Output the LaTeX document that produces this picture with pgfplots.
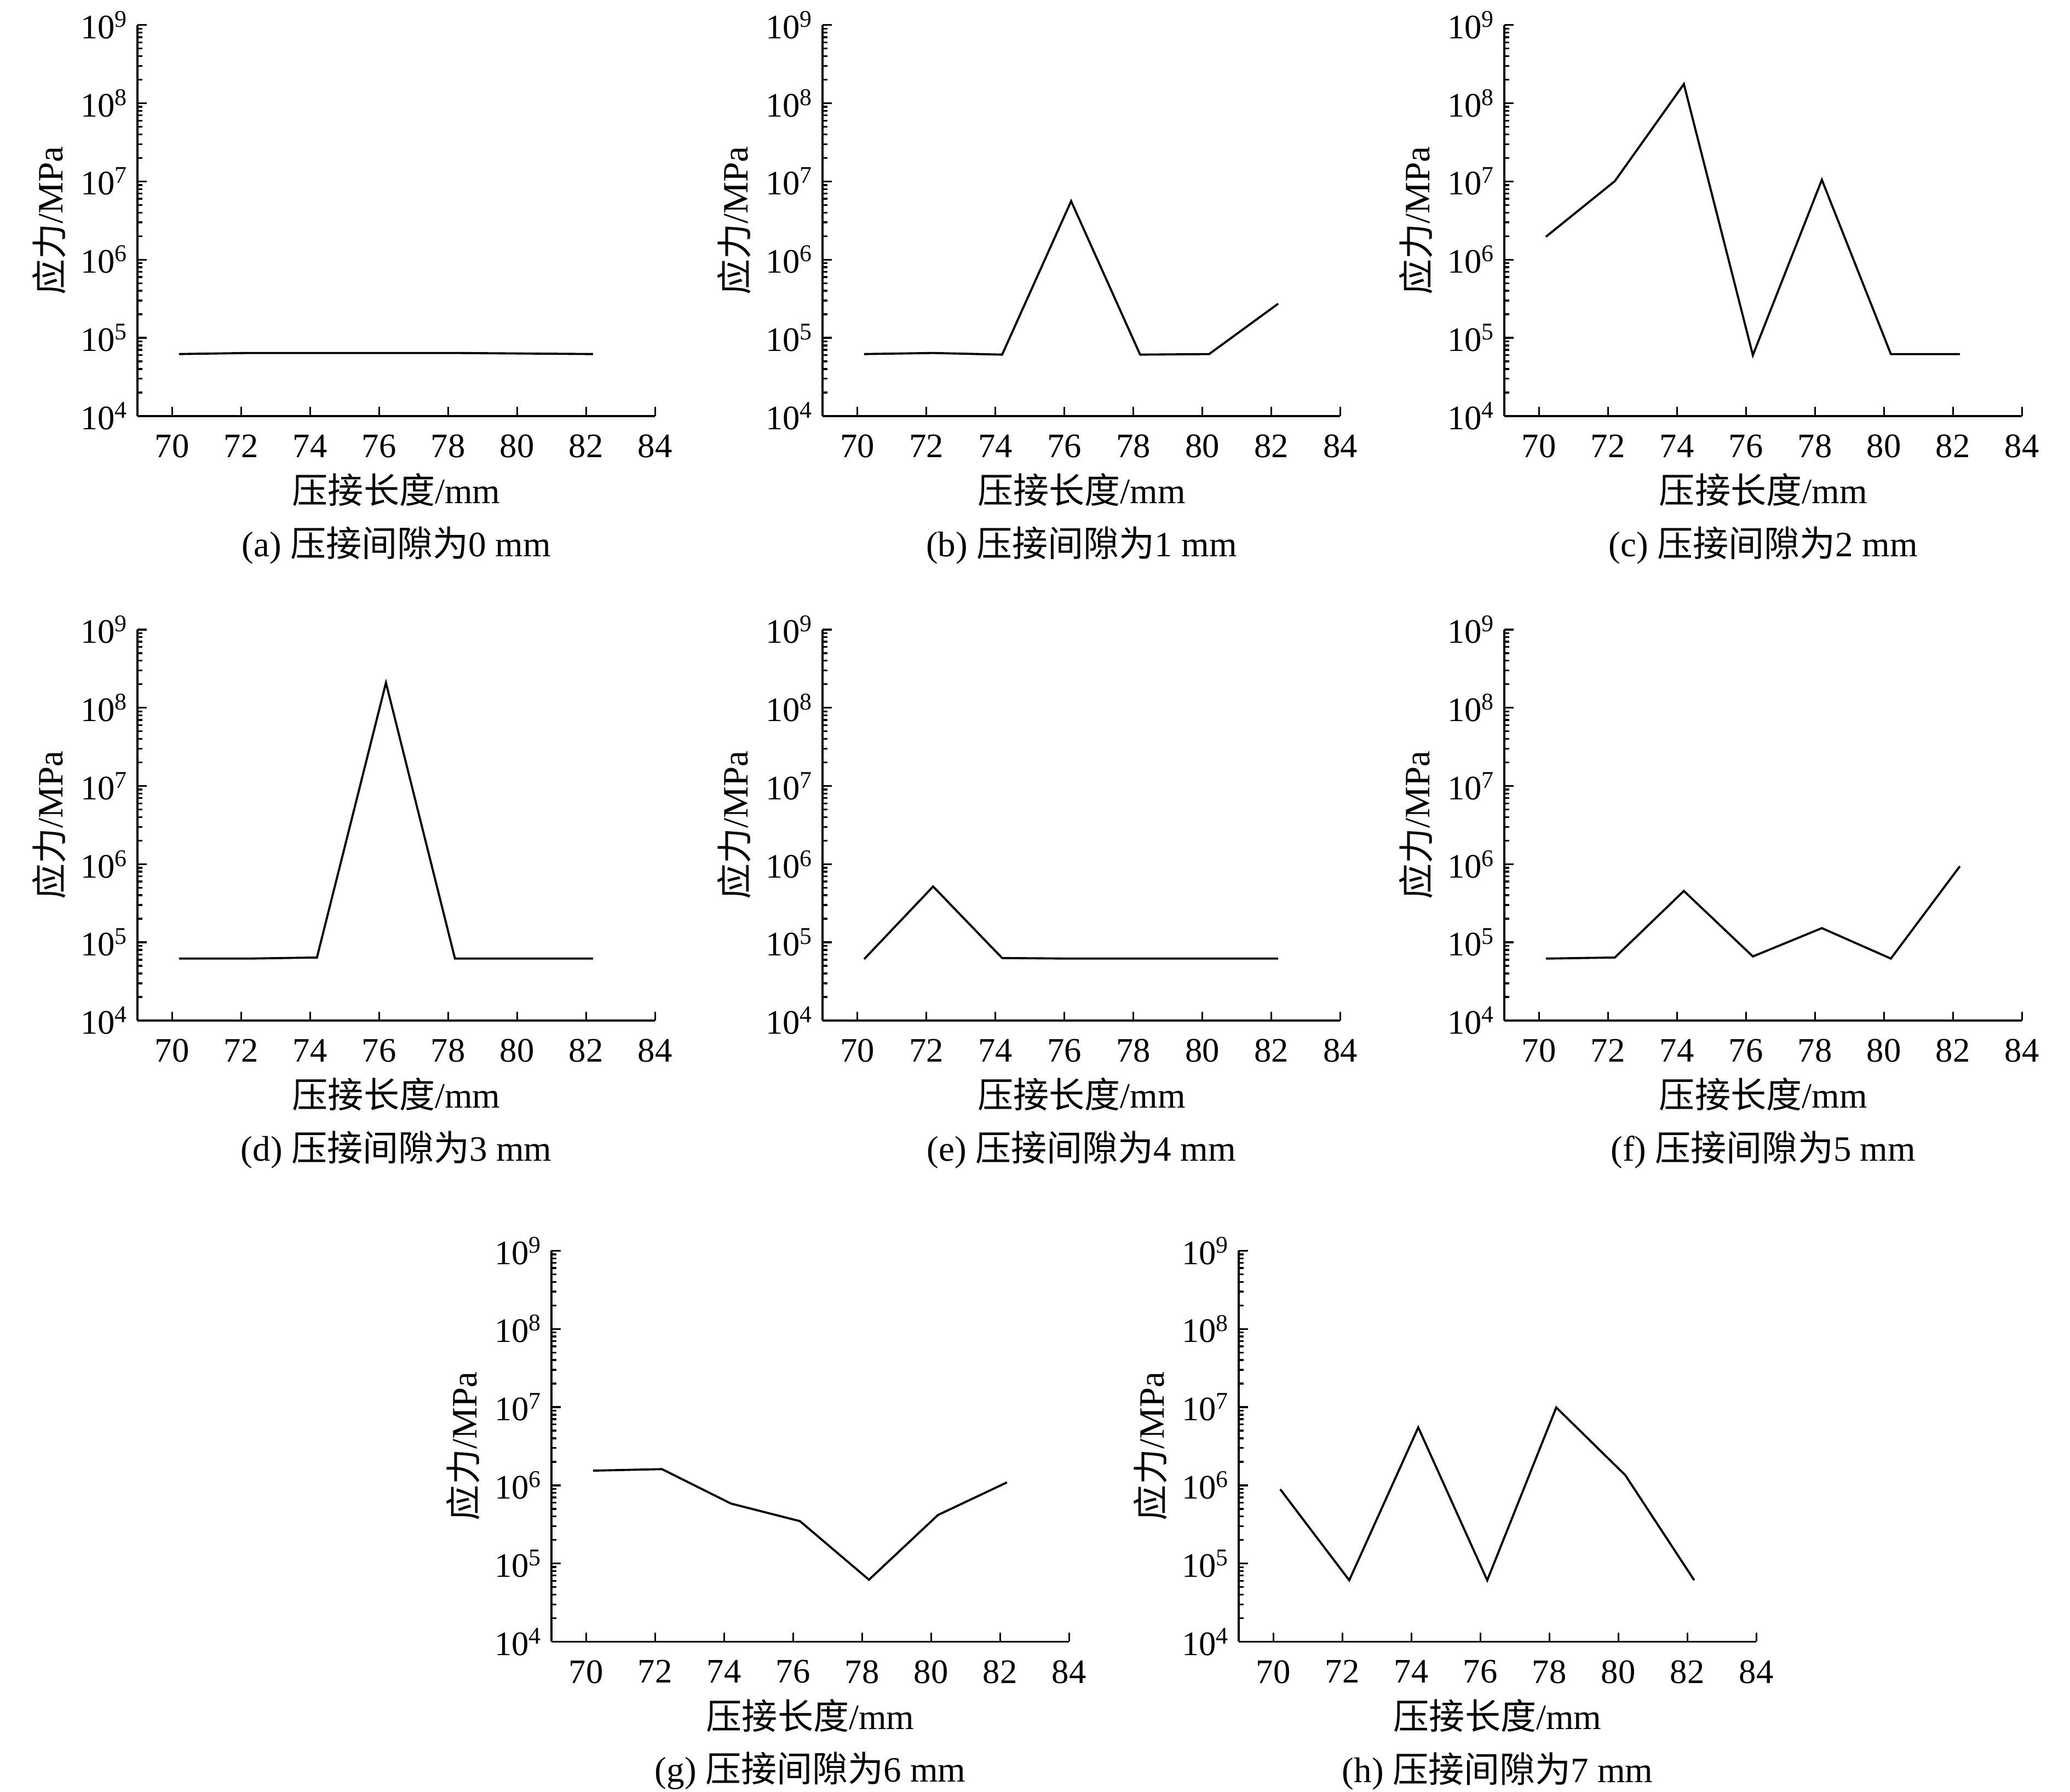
\documentclass[border=0pt]{standalone}
\usepackage{fontspec}
\setmainfont{Liberation Serif}
\newfontfamily\cjk{Noto Sans CJK SC}
\newcommand{\zh}[1]{{\cjk #1}}
\usepackage{pgfplots}
\usepackage{pgfplotstable}
\pgfplotsset{compat=1.18}

\pgfplotstableread{
x    a       b       c       d       e       f       g       h
70.2 6.2e4   6.2e4   1.96e6  6.2e4   6.1e4   6.2e4   1.54e6  8.9e5
72.2 6.4e4   6.4e4   1.01e7  6.2e4   5.18e5  6.4e4   1.61e6  6.1e4
74.2 6.4e4   6.1e4   1.76e8  6.4e4   6.3e4   4.54e5  5.84e5  5.5e6
76.2 6.4e4   5.6e6   6.0e4   2.09e8  6.2e4   6.6e4   3.48e5  6.1e4
78.2 6.4e4   6.1e4   1.05e7  6.2e4   6.2e4   1.52e5  6.2e4   9.9e6
80.2 6.3e4   6.2e4   6.2e4   6.2e4   6.2e4   6.2e4   4.17e5  1.35e6
82.2 6.2e4   2.73e5  6.2e4   6.2e4   6.2e4   9.4e5   1.09e6  6.1e4
}\datatable

\pgfplotsset{
    scale only axis,
    width=196pt, height=148.1pt,
    xmin=69, xmax=84, ymin=1e4, ymax=1e9,
    axis lines=left,
    axis line style={-, line width=0.8pt},
    tick align=inside,
    major tick length=3.4pt,
    minor tick length=1.8pt,
    tick style={line width=0.7pt, black},
    xtick={70,72,...,84},
    ytick={1e4,1e5,1e6,1e7,1e8,1e9},
    yticklabels={10\textsuperscript{4},10\textsuperscript{5},10\textsuperscript{6},10\textsuperscript{7},10\textsuperscript{8},10\textsuperscript{9}},
    minor ytick={2e4,3e4,4e4,5e4,6e4,7e4,8e4,9e4,
                 2e5,3e5,4e5,5e5,6e5,7e5,8e5,9e5,
                 2e6,3e6,4e6,5e6,6e6,7e6,8e6,9e6,
                 2e7,3e7,4e7,5e7,6e7,7e7,8e7,9e7,
                 2e8,3e8,4e8,5e8,6e8,7e8,8e8,9e8},
    tick label style={font=\fontsize{13}{15}\selectfont},
    xticklabel style={/pgf/number format/assume math mode=true, yshift=-3.5pt},
    label style={font=\fontsize{13.5}{16}\selectfont},
    xlabel style={at={([yshift=-28pt]axis description cs:0.5,0)}, anchor=center},
    ylabel style={at={([xshift=-33.5pt]axis description cs:0,0.5)}, anchor=center},
    title style={at={([yshift=-55pt]axis description cs:0.5,0)}, anchor=center, font=\fontsize{13.5}{16}\selectfont},
}

\begin{document}
\begin{tikzpicture}
\useasboundingbox (0,0) rectangle (784pt,-678.7pt);

\begin{semilogyaxis}[at={(52.1pt,-157.6pt)}, anchor=south west, xlabel={\zh{压接长度}/mm}, ylabel={\zh{应力}/MPa}, title={(a) \zh{压接间隙为}0 mm}]
\addplot[black, line width=0.8pt, mark=none] table[x=x,y=a] {\datatable};
\end{semilogyaxis}

\begin{semilogyaxis}[at={(311.6pt,-157.6pt)}, anchor=south west, xlabel={\zh{压接长度}/mm}, ylabel={\zh{应力}/MPa}, title={(b) \zh{压接间隙为}1 mm}]
\addplot[black, line width=0.8pt, mark=none] table[x=x,y=b] {\datatable};
\end{semilogyaxis}

\begin{semilogyaxis}[at={(569.8pt,-157.6pt)}, anchor=south west, xlabel={\zh{压接长度}/mm}, ylabel={\zh{应力}/MPa}, title={(c) \zh{压接间隙为}2 mm}]
\addplot[black, line width=0.8pt, mark=none] table[x=x,y=c] {\datatable};
\end{semilogyaxis}

\begin{semilogyaxis}[at={(52.1pt,-386.6pt)}, anchor=south west, xlabel={\zh{压接长度}/mm}, ylabel={\zh{应力}/MPa}, title={(d) \zh{压接间隙为}3 mm}]
\addplot[black, line width=0.8pt, mark=none] table[x=x,y=d] {\datatable};
\end{semilogyaxis}

\begin{semilogyaxis}[at={(311.6pt,-386.6pt)}, anchor=south west, xlabel={\zh{压接长度}/mm}, ylabel={\zh{应力}/MPa}, title={(e) \zh{压接间隙为}4 mm}]
\addplot[black, line width=0.8pt, mark=none] table[x=x,y=e] {\datatable};
\end{semilogyaxis}

\begin{semilogyaxis}[at={(569.8pt,-386.6pt)}, anchor=south west, xlabel={\zh{压接长度}/mm}, ylabel={\zh{应力}/MPa}, title={(f) \zh{压接间隙为}5 mm}]
\addplot[black, line width=0.8pt, mark=none] table[x=x,y=f] {\datatable};
\end{semilogyaxis}

\begin{semilogyaxis}[at={(208.9pt,-621.9pt)}, anchor=south west, xlabel={\zh{压接长度}/mm}, ylabel={\zh{应力}/MPa}, title={(g) \zh{压接间隙为}6 mm}]
\addplot[black, line width=0.8pt, mark=none] table[x=x,y=g] {\datatable};
\end{semilogyaxis}

\begin{semilogyaxis}[at={(469.2pt,-621.9pt)}, anchor=south west, xlabel={\zh{压接长度}/mm}, ylabel={\zh{应力}/MPa}, title={(h) \zh{压接间隙为}7 mm}]
\addplot[black, line width=0.8pt, mark=none] table[x=x,y=h] {\datatable};
\end{semilogyaxis}
\end{tikzpicture}
\end{document}
